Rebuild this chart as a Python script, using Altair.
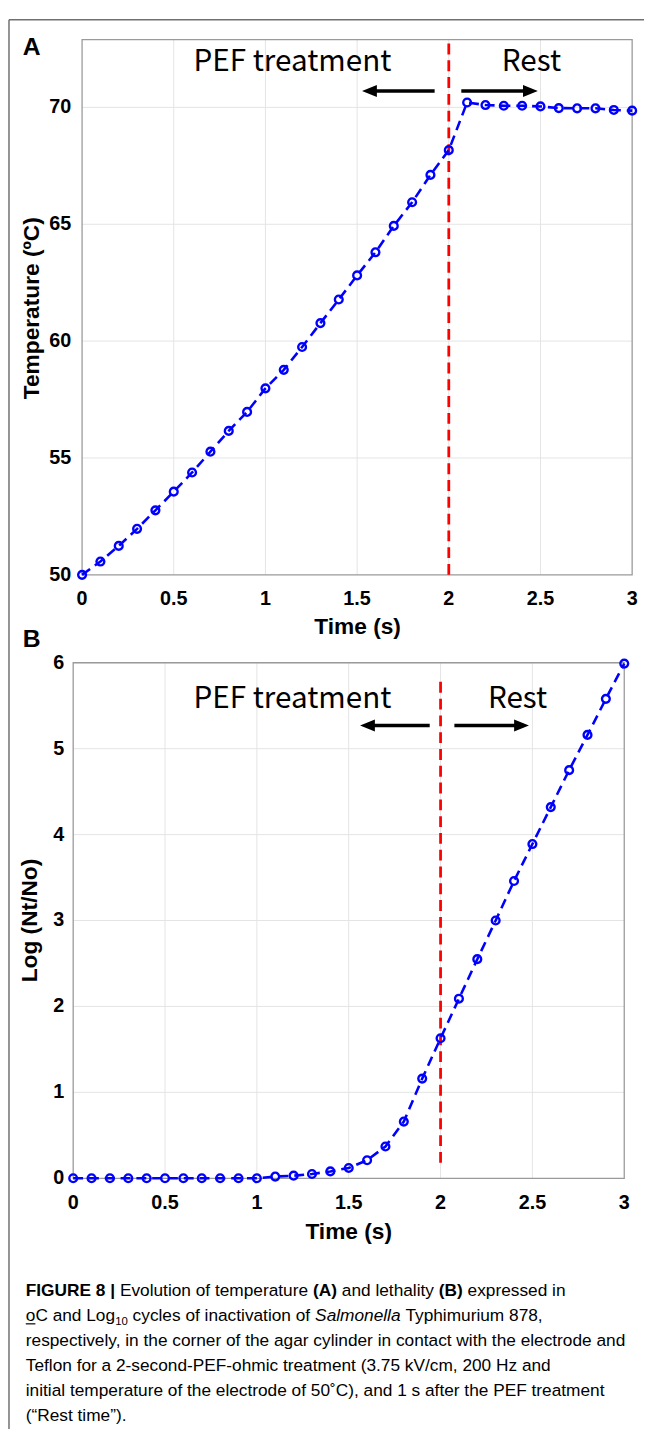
import altair as alt
import pandas as pd

# ------------------------------------------------------------------ data
time_s = [0.0, 0.1, 0.2, 0.3, 0.4, 0.5, 0.6, 0.7, 0.8, 0.9, 1.0,
          1.1, 1.2, 1.3, 1.4, 1.5, 1.6, 1.7, 1.8, 1.9, 2.0,
          2.1, 2.2, 2.3, 2.4, 2.5, 2.6, 2.7, 2.8, 2.9, 3.0]
temperature_c = [50.0, 50.57, 51.24, 51.97, 52.76, 53.56, 54.38, 55.27, 56.16, 56.97, 57.98,
                 58.77, 59.75, 60.77, 61.78, 62.81, 63.80, 64.93, 65.94, 67.11, 68.17,
                 70.21, 70.10, 70.07, 70.07, 70.04, 69.97, 69.96, 69.96, 69.89, 69.86]
log_nt_no = [0.0, 0.0, 0.0, 0.0, 0.0, 0.0, 0.0, 0.0, 0.0, 0.0, 0.0,
             0.02, 0.03, 0.05, 0.08, 0.12, 0.21, 0.37, 0.66, 1.16, 1.63,
             2.09, 2.55, 3.00, 3.46, 3.89, 4.32, 4.75, 5.16, 5.58, 5.99]
time_ticks = [0, 0.5, 1, 1.5, 2, 2.5, 3]
time_tick_labels = ["0", "0.5", "1", "1.5", "2", "2.5", "3"]
temp_ticks = [50, 55, 60, 65, 70]
temp_tick_labels = ["50", "55", "60", "65", "70"]
log_ticks = [0, 1, 2, 3, 4, 5, 6]
log_tick_labels = ["0", "1", "2", "3", "4", "5", "6"]
time_limits = [0, 3]
temp_limits = [50, 72.9]
log_limits = [0, 6]
pef_end_s = [2]
marker_extent_log = [0.18, 5.83]

# ------------------------------------------------------------------ layout
W, H = 644, 1430
BLUE, RED = "#0000ff", "#ff0000"
GRID, BOX, FRAME = "#e4e4e4", "#9a9a9a", "#707070"
TICK_FONT = "Liberation Sans"
ANNOT_FONT = "Noto Sans CJK KR"
CAP_FONT = "Liberation Sans"
CAP_SIZE = 17.5
CAP_FACTOR = 1.0


def span(v0, p0, v1, p1, size):
    """Scale domain so that v0 lands on pixel p0 and v1 on pixel p1."""
    k = (p1 - p0) / (v1 - v0)
    a = v0 - p0 / k
    b = v0 + (size - p0) / k
    return [min(a, b), max(a, b)]


xA = alt.Scale(domain=span(time_limits[0], 75, time_limits[1], 632, W), nice=False, zero=False)
yA = alt.Scale(domain=span(temp_limits[0], 565, temp_limits[1], 23, H), nice=False, zero=False)
xB = alt.Scale(domain=span(time_limits[0], 66, time_limits[1], 624, W), nice=False, zero=False)
yB = alt.Scale(domain=span(log_limits[0], 1176, log_limits[1], 654, H), nice=False, zero=False)


def panel(values, xs, ys, ylim, yticks, ylabels, red_extent, ypad):
    df = pd.DataFrame({"t": time_s, "v": values})
    gx = pd.DataFrame({"t": time_ticks[1:-1]})
    gx["lo"], gx["hi"] = ylim[0], ylim[1]
    gy = pd.DataFrame({"v": yticks[1:]})
    gy["lo"], gy["hi"] = time_limits[0], time_limits[1]
    box = pd.DataFrame({"x0": [time_limits[0]], "x1": [time_limits[1]],
                        "y0": [ylim[0]], "y1": [ylim[1]]})
    red = pd.DataFrame({"t": pef_end_s, "lo": [red_extent[0]], "hi": [red_extent[1]]})
    xl = pd.DataFrame({"t": time_ticks, "lbl": time_tick_labels})
    xl["y"] = ylim[0]
    yl = pd.DataFrame({"v": yticks, "lbl": ylabels})
    yl["x"] = time_limits[0]

    X = lambda f: alt.X(f, scale=xs, axis=None)
    Y = lambda f: alt.Y(f, scale=ys, axis=None)

    grid_v = alt.Chart(gx).mark_rule(color=GRID, strokeWidth=1).encode(
        x=X("t:Q"), y=Y("lo:Q"), y2="hi:Q")
    grid_h = alt.Chart(gy).mark_rule(color=GRID, strokeWidth=1).encode(
        y=Y("v:Q"), x=X("lo:Q"), x2="hi:Q")
    frame = alt.Chart(box).mark_rect(fill="white", fillOpacity=0, stroke=BOX, strokeWidth=1.3).encode(
        x=X("x0:Q"), x2="x1:Q", y=Y("y0:Q"), y2="y1:Q")
    red_rule = alt.Chart(red).mark_rule(color=RED, strokeWidth=2.8, strokeDash=[11, 6]).encode(
        x=X("t:Q"), y=Y("lo:Q"), y2="hi:Q")
    line = alt.Chart(df).mark_line(color=BLUE, strokeWidth=2.6, strokeDash=[10, 6]).encode(
        x=X("t:Q"), y=Y("v:Q"))
    pts = alt.Chart(df).mark_point(shape="circle", filled=False, color=BLUE, size=62,
                                   strokeWidth=2.4, opacity=1).encode(x=X("t:Q"), y=Y("v:Q"))
    xlab = alt.Chart(xl).mark_text(font=TICK_FONT, fontSize=20, fontWeight="bold",
                                   baseline="top", align="center", dy=15, color="black").encode(
        x=X("t:Q"), y=Y("y:Q"), text="lbl:N")
    ylab = alt.Chart(yl).mark_text(font=TICK_FONT, fontSize=20, fontWeight="bold",
                                   baseline="middle", align="right", dx=-ypad, color="black").encode(
        x=X("x:Q"), y=Y("v:Q"), text="lbl:N")
    return alt.layer(grid_v, grid_h, frame, red_rule, line, pts, xlab, ylab)


panelA = panel(temperature_c, xA, yA, temp_limits, temp_ticks, temp_tick_labels, temp_limits, 11)
panelB = panel(log_nt_no, xB, yB, log_limits, log_ticks, log_tick_labels, marker_extent_log, 9)

ONE = pd.DataFrame({"k": [0]})


def label(s, x, y, size, font, weight="normal", align="center", baseline="alphabetic",
          angle=None, style=None):
    kw = dict(text=s, font=font, fontSize=size, fontWeight=weight, align=align,
              baseline=baseline, color="black")
    if angle is not None:
        kw["angle"] = angle
    if style:
        kw["fontStyle"] = style
    return alt.Chart(ONE).mark_text(**kw).encode(x=alt.value(x), y=alt.value(y))


def hline(x1, x2, y, color="black", width=3.4):
    return alt.Chart(ONE).mark_rule(color=color, strokeWidth=width).encode(
        x=alt.value(x1), x2=alt.value(x2), y=alt.value(y))


def vline(x, y1, y2, color, width):
    return alt.Chart(ONE).mark_rule(color=color, strokeWidth=width).encode(
        x=alt.value(x), y=alt.value(y1), y2=alt.value(y2))


def head(x, y, left):
    path = "M-1,0L1,-0.8L1,0.8Z" if left else "M1,0L-1,-0.8L-1,0.8Z"
    return alt.Chart(ONE).mark_point(shape=path, filled=True, color="black", size=225,
                                     opacity=1, strokeWidth=0).encode(
        x=alt.value(x), y=alt.value(y))


annots = [
    label("A", 24, 39, 25, TICK_FONT, "bold"),
    label("B", 24, 638, 25, TICK_FONT, "bold"),
    label("Temperature (ºC)", 24, 295, 23, TICK_FONT, "bold", baseline="middle", angle=270),
    label("Log (Nt/No)", 22, 915, 23, TICK_FONT, "bold", baseline="middle", angle=270),
    label("Time (s)", 354, 625, 23, TICK_FONT, "bold"),
    label("Time (s)", 345, 1237, 23, TICK_FONT, "bold"),
    label("PEF treatment", 288, 55, 30, ANNOT_FONT),
    label("Rest", 530, 55, 30, ANNOT_FONT),
    label("PEF treatment", 288, 700, 30, ANNOT_FONT),
    label("Rest", 516, 700, 30, ANNOT_FONT),
    hline(432, 368, 75), head(366, 75, True),
    hline(459, 530, 75), head(529, 75, False),
    hline(427, 366, 717.5), head(364, 717.5, True),
    hline(452, 522, 717.5), head(520, 717.5, False),
    # outer figure frame
    hline(1, W, 3, FRAME, 1.5),
    vline(1, 3, H, FRAME, 1.5),
]

# ------------------------------------------------------------------ caption
REG_W = {" ": 278, "(": 333, ")": 333, ",": 278, "-": 333, ".": 278, "/": 278, "|": 260,
         "A": 667, "B": 667, "C": 722, "E": 667, "F": 611, "G": 778, "H": 722, "I": 278,
         "L": 556, "P": 667, "R": 722, "S": 667, "T": 611, "U": 722,
         "a": 556, "b": 556, "c": 500, "d": 556, "e": 556, "f": 278, "g": 556, "h": 556,
         "i": 222, "j": 222, "k": 500, "l": 222, "m": 833, "n": 556, "o": 556, "p": 556,
         "q": 556, "r": 333, "s": 500, "t": 278, "u": 556, "v": 500, "w": 722, "x": 500,
         "y": 500, "z": 500}
BOLD_W = {" ": 278, "(": 333, ")": 333, "|": 280, "A": 722, "B": 722, "E": 667, "F": 611,
          "G": 778, "I": 278, "R": 722, "U": 722}


def width(s, weight, size):
    table = BOLD_W if weight == "bold" else REG_W
    return sum(table.get(c, REG_W.get(c, 556)) for c in s) / 1000.0 * size * CAP_FACTOR


caption = [
    [("FIGURE 8 |", "bold", None, 1.0, 0, False),
     ("Evolution of temperature", "normal", None, 1.0, 0, True),
     ("(A)", "bold", None, 1.0, 0, True),
     ("and lethality", "normal", None, 1.0, 0, True),
     ("(B)", "bold", None, 1.0, 0, True),
     ("expressed in", "normal", None, 1.0, 0, True)],
    [("oC and Log", "normal", None, 1.0, 0, False),
     ("10", "normal", None, 0.66, 4, False),
     ("cycles of inactivation of", "normal", None, 1.0, 0, True),
     ("Salmonella", "normal", "italic", 1.0, 0, True),
     ("Typhimurium 878,", "normal", None, 1.0, 0, True)],
    [("respectively, in the corner of the agar cylinder in contact with the electrode and",
      "normal", None, 1.0, 0, False)],
    [("Teflon for a 2-second-PEF-ohmic treatment (3.75 kV/cm, 200 Hz and",
      "normal", None, 1.0, 0, False)],
    [("initial temperature of the electrode of 50˚C), and 1 s after the PEF treatment",
      "normal", None, 1.0, 0, False)],
    [("(“Rest time”).", "normal", None, 1.0, 0, False)],
]

CAP_X = 18
CAP_Y0 = 1295
CAP_STEP = 25.4
cap_marks = []
for i, segs in enumerate(caption):
    yb = CAP_Y0 + i * CAP_STEP
    x = CAP_X
    for (s, wgt, sty, scl, dy, gap) in segs:
        if gap:
            x += width(" ", "normal", CAP_SIZE)
        cap_marks.append(label(s, x, yb + dy, CAP_SIZE * scl, CAP_FONT, wgt,
                               align="left", style=sty))
        x += width(s, wgt, CAP_SIZE * scl)
# underline of the "o" in line 2
cap_marks.append(hline(CAP_X, CAP_X + width("o", "normal", CAP_SIZE), CAP_Y0 + CAP_STEP + 3,
                       "black", 1.2))

chart = alt.layer(panelA, panelB, *annots, *cap_marks).resolve_scale(
    x="independent", y="independent"
).properties(
    width=W, height=H, padding=0, autosize=alt.AutoSizeParams(type="none")
).configure_view(stroke=None)

chart.save("out.html", embed_options={"renderer": "svg", "actions": False})
